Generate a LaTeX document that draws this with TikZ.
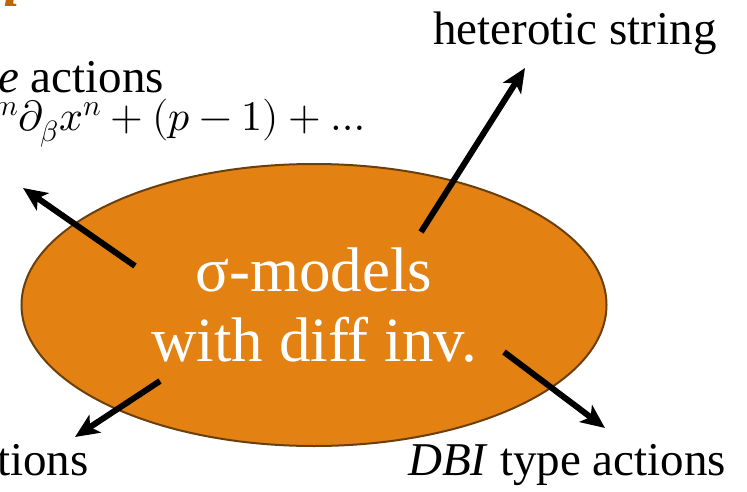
\documentclass[tikz,border=0pt]{standalone}
\usepackage{fontspec}
\usepackage{unicode-math}
\setmainfont{Liberation Serif}
\setmathfont{Latin Modern Math}
\usetikzlibrary{arrows.meta,positioning,shapes.geometric}
\definecolor{blobfill}{HTML}{E38212}
\definecolor{blobline}{HTML}{6B3F0C}
\definecolor{titleor}{HTML}{B8670C}

\begin{document}
\begin{tikzpicture}[
  x=1pt, y=-1pt,
  lbl/.style={inner sep=0pt, font=\fontsize{47}{56}\selectfont},
  blob/.style={ellipse, draw=blobline, line width=2pt, fill=blobfill, text=white,
    minimum width=585pt, minimum height=282pt, align=center,
    font=\fontsize{63}{70}\selectfont},
  arrow/.style={-{Stealth[length=24pt,width=21pt,inset=6pt]}, line width=6pt}
]
\useasboundingbox (0,0) rectangle (747,492);
\clip (0,0) rectangle (747,492);

\node[blob] (sigma) at (314,305) {σ-models\\with diff inv.};

\node[lbl, anchor=base] (het) at (575,45) {heterotic string};
\node[lbl, anchor=base west] (left) at (-2,93) {\textit{e} actions};
\node[lbl, anchor=base west, font=\fontsize{42}{48}\selectfont] (form) at (-8,131)
  {$^{m}\partial_\beta x^n+(p-1)+\ldots$};
\node[lbl, anchor=base west] (low) at (-3,475) {tions};
\node[lbl, anchor=base west] (dbi) at (408,475) {\textit{DBI} type actions};
\node[inner sep=0pt, anchor=base west, text=titleor,
  font=\fontsize{60}{70}\selectfont\bfseries\itshape] (title) at (-14,7) {n};

% arrows out of the blob
\coordinate (hs) at (421,232);
\coordinate (ht) at (525,68);
\coordinate (ls) at (135,266);
\coordinate (lt) at (23,188);
\coordinate (bs) at (160,381);
\coordinate (bt) at (75,437);
\coordinate (ds) at (504,352);
\coordinate (dt) at (605,428);

\draw[arrow] (hs) -- (ht);
\draw[arrow] (ls) -- (lt);
\draw[arrow] (bs) -- (bt);
\draw[arrow] (ds) -- (dt);

\end{tikzpicture}
\end{document}
